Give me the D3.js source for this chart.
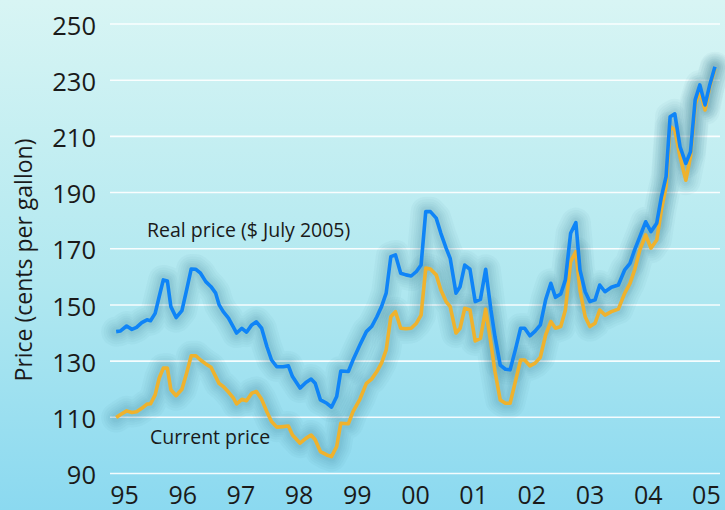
<!DOCTYPE html>
<html>
<head>
<meta charset="utf-8">
<script src="https://cdn.jsdelivr.net/npm/d3@7"></script>
<style>
  body { margin: 0; padding: 0; }
  svg { display: block; }
</style>
</head>
<body>
<svg width="725" height="510"></svg>
<script>
// Data: dates as decimal years, prices in cents per gallon.
const years = [
  1995.02, 1995.09, 1995.20, 1995.29, 1995.37, 1995.46, 1995.55, 1995.61, 1995.69, 1995.76,
  1995.83, 1995.90, 1995.96, 1996.05, 1996.15, 1996.23, 1996.31, 1996.39, 1996.47, 1996.56,
  1996.65, 1996.73, 1996.79, 1996.86, 1996.95, 1997.03, 1997.09, 1997.18, 1997.26, 1997.35,
  1997.43, 1997.52, 1997.61, 1997.69, 1997.78, 1997.89, 1997.98, 1998.05, 1998.18, 1998.28,
  1998.37, 1998.44, 1998.53, 1998.64, 1998.72, 1998.81, 1998.88, 1999.01, 1999.09, 1999.21,
  1999.32, 1999.41, 1999.50, 1999.58, 1999.66, 1999.74, 1999.82, 1999.91, 2000.00, 2000.09,
  2000.18, 2000.26, 2000.34, 2000.42, 2000.52, 2000.60, 2000.69, 2000.76, 2000.86, 2000.93,
  2001.01, 2001.10, 2001.19, 2001.28, 2001.37, 2001.46, 2001.53, 2001.62, 2001.71, 2001.79,
  2001.88, 2001.97, 2002.04, 2002.13, 2002.22, 2002.31, 2002.40, 2002.49, 2002.57, 2002.66,
  2002.74, 2002.83, 2002.92, 2002.99, 2003.08, 2003.16, 2003.25, 2003.33, 2003.42, 2003.53,
  2003.65, 2003.76, 2003.85, 2003.93, 2004.02, 2004.12, 2004.21, 2004.31, 2004.39, 2004.47,
  2004.54, 2004.62, 2004.71, 2004.81, 2004.89, 2004.97, 2005.05, 2005.14, 2005.22, 2005.31
];
const realPrice = [
  140.5, 140.7, 142.5, 141.3, 142.0, 143.7, 144.7, 144.4, 147.0, 153.0,
  158.9, 158.5, 149.4, 145.5, 148.0, 155.3, 162.8, 162.7, 161.3, 158.3,
  156.5, 154.2, 150.0, 147.6, 145.3, 142.3, 140.0, 141.7, 140.3, 142.9,
  144.0, 141.7, 135.2, 130.4, 128.0, 128.0, 128.3, 124.5, 120.4, 122.4,
  123.6, 122.1, 116.2, 115.0, 113.6, 117.4, 126.5, 126.3, 130.4, 135.8,
  140.5, 142.3, 145.8, 149.4, 154.2, 167.2, 167.8, 161.3, 160.7, 160.3,
  161.9, 164.2, 183.2, 183.2, 180.9, 175.5, 170.2, 166.6, 154.2, 156.5,
  164.2, 162.7, 151.2, 152.0, 162.7, 148.2, 138.7, 128.6, 127.1, 126.9,
  134.0, 141.7, 141.7, 139.0, 140.7, 142.9, 151.8, 157.7, 152.7, 153.9,
  158.9, 175.5, 179.3, 162.5, 154.7, 151.2, 151.8, 157.1, 154.7, 156.3,
  157.1, 162.5, 164.8, 169.6, 174.3, 179.6, 176.1, 179.1, 188.5, 195.7,
  217.0, 218.0, 206.3, 200.4, 204.6, 223.0, 228.3, 221.2, 228.3, 234.8
];
const currentPrice = [
  109.9, 110.9, 112.3, 111.7, 112.0, 113.2, 114.7, 114.8, 118.0, 124.0,
  127.5, 127.5, 119.8, 117.7, 120.0, 125.7, 131.9, 131.9, 130.4, 129.0,
  127.8, 124.5, 122.0, 121.0, 119.0, 117.0, 114.8, 116.4, 115.9, 118.6,
  119.2, 116.4, 112.0, 108.5, 106.5, 106.7, 106.9, 103.7, 100.8, 102.5,
  103.7, 102.0, 97.8, 96.6, 96.0, 99.6, 107.9, 107.7, 112.0, 116.5,
  122.1, 123.6, 126.3, 129.3, 134.0, 145.8, 147.6, 141.7, 141.5, 141.7,
  143.5, 146.4, 163.1, 162.8, 160.7, 155.3, 151.2, 149.4, 140.0, 141.7,
  148.8, 148.2, 137.2, 138.1, 148.5, 136.4, 126.3, 116.2, 115.0, 115.0,
  122.7, 130.4, 130.4, 128.3, 129.3, 131.4, 139.3, 144.1, 141.7, 142.3,
  148.2, 165.4, 169.0, 155.3, 145.8, 142.3, 143.5, 148.2, 146.4, 147.6,
  148.5, 154.2, 157.7, 162.5, 169.6, 174.9, 170.2, 173.1, 183.8, 192.1,
  213.5, 212.3, 202.8, 194.4, 202.8, 221.2, 226.5, 219.4, 227.7, 234.2
];
const yTicks = [90, 110, 130, 150, 170, 190, 210, 230, 250];
const xTicks = [1995, 1996, 1997, 1998, 1999, 2000, 2001, 2002, 2003, 2004, 2005];

// SVG related variables.
const svg = d3.select("svg");
const width = +svg.attr("width");
const height = +svg.attr("height");
const fontFamily = "'Open Sans', 'Noto Sans', sans-serif";

// Background gradient.
const defs = svg.append("defs");
const grad = defs.append("linearGradient")
                 .attr("id", "bg-grad")
                 .attr("x1", 0).attr("y1", 0)
                 .attr("x2", 0).attr("y2", 1);
grad.append("stop").attr("offset", "0%").attr("stop-color", "#d8f5f4");
grad.append("stop").attr("offset", "55%").attr("stop-color", "#b1e8f0");
grad.append("stop").attr("offset", "100%").attr("stop-color", "#8bd9f0");

svg.append("rect")
   .attr("width", width)
   .attr("height", height)
   .attr("fill", "url(#bg-grad)");

// Scales
const xScale = d3.scaleLinear()
                 .domain([1995, 2005.5])
                 .range([115, 726]);
const yScale = d3.scaleLinear()
                 .domain([90, 250])
                 .range([473.5, 24]);

// Gridlines
svg.append("g")
   .selectAll("line")
   .data(yTicks)
   .join("line")
   .attr("x1", 110)
   .attr("x2", 720)
   .attr("y1", d => yScale(d))
   .attr("y2", d => yScale(d))
   .attr("stroke", "#ffffff")
   .attr("stroke-width", 1.6)
   .attr("stroke-opacity", 0.9);

// Y Axis (labels only)
const yAxis = svg.append("g")
                 .attr("transform", "translate(96,0)")
                 .call(d3.axisLeft(yScale).tickValues(yTicks).tickSize(0).tickPadding(0));
yAxis.select(".domain").remove();
yAxis.selectAll("text")
     .attr("dy", "0.4em")
     .style("font-size", "25.5px")
     .style("font-family", fontFamily)
     .style("fill", "#1a1a1a");

// X Axis (labels only)
const xAxis = svg.append("g")
                 .attr("transform", "translate(9,485)")
                 .call(d3.axisBottom(xScale)
                         .tickValues(xTicks)
                         .tickSize(0)
                         .tickPadding(0)
                         .tickFormat(d => String(d).slice(2)));
xAxis.select(".domain").remove();
xAxis.selectAll("text")
     .attr("dy", "0.75em")
     .style("font-size", "25px")
     .style("font-family", fontFamily)
     .style("fill", "#1a1a1a");

// Y axis title
svg.append("text")
   .attr("transform", "translate(32,260) rotate(-90)")
   .attr("text-anchor", "middle")
   .style("font-size", "23px")
   .style("font-family", fontFamily)
   .style("fill", "#1a1a1a")
   .text("Price (cents per gallon)");

// Lines
const line = d3.line()
               .x((d, i) => xScale(years[i]))
               .y(d => yScale(d));

// Soft dark halo behind both series: many wide translucent strokes
const glow = svg.append("g");
[30, 25, 20, 16, 12, 9].forEach(w => {
    [currentPrice, realPrice].forEach(series => {
        glow.append("path")
            .datum(series)
            .attr("fill", "none")
            .attr("stroke", "#2b6f93")
            .attr("stroke-opacity", 0.045)
            .attr("stroke-width", w)
            .attr("stroke-linejoin", "round")
            .attr("stroke-linecap", "round")
            .attr("d", line);
    });
});

svg.append("path")
   .datum(currentPrice)
   .attr("fill", "none")
   .attr("stroke", "#efb22d")
   .attr("stroke-width", 3.6)
   .attr("stroke-linejoin", "round")
   .attr("d", line);

svg.append("path")
   .datum(realPrice)
   .attr("fill", "none")
   .attr("stroke", "#0f84f7")
   .attr("stroke-width", 3.6)
   .attr("stroke-linejoin", "round")
   .attr("d", line);

// Line labels
svg.append("text")
   .attr("x", 147)
   .attr("y", 237)
   .style("font-size", "19.5px")
   .style("font-family", fontFamily)
   .style("fill", "#1a1a1a")
   .text("Real price ($ July 2005)");

svg.append("text")
   .attr("x", 150)
   .attr("y", 444)
   .style("font-size", "19.5px")
   .style("font-family", fontFamily)
   .style("fill", "#1a1a1a")
   .text("Current price");
</script>
</body>
</html>
